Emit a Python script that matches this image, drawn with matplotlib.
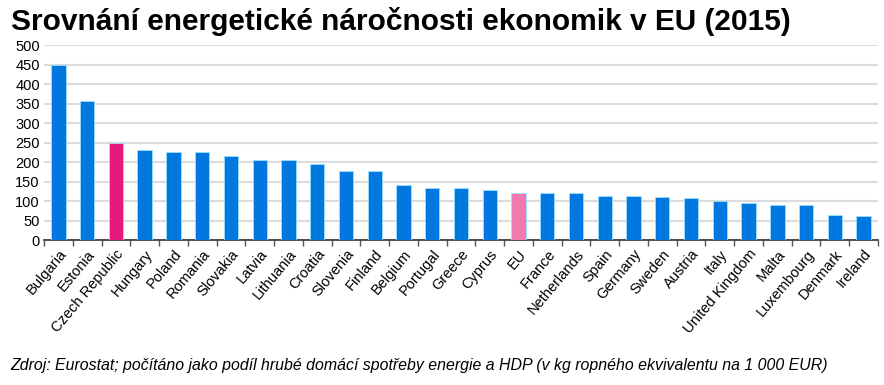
import numpy as np
import matplotlib.pyplot as plt

plt.rcParams['font.family'] = ['Liberation Sans', 'DejaVu Sans']

countries = ['Bulgaria', 'Estonia', 'Czech Republic', 'Hungary', 'Poland', 'Romania',
             'Slovakia', 'Latvia', 'Lithuania', 'Croatia', 'Slovenia', 'Finland',
             'Belgium', 'Portugal', 'Greece', 'Cyprus', 'EU', 'France', 'Netherlands',
             'Spain', 'Germany', 'Sweden', 'Austria', 'Italy', 'United Kingdom',
             'Malta', 'Luxembourg', 'Denmark', 'Ireland']
values = [449, 356, 250, 232, 226, 226, 216, 205, 205, 194, 178, 178,
          141, 133, 133, 127, 120, 120, 120, 114, 114, 111, 108, 100, 94,
          91, 89, 64, 61]

colors = []
for c in countries:
    if c == 'Czech Republic':
        colors.append('#E8197A')
    elif c == 'EU':
        colors.append('#F07AB0')
    else:
        colors.append('#0078E0')

fig = plt.figure(figsize=(8.84, 3.85), dpi=100)
ax = fig.add_axes([0.0498, 0.3766, 0.9434, 0.5064])

x = np.arange(len(countries))
ax.bar(x, values, width=0.5, color=colors, edgecolor='#9ADFFF', linewidth=0.6, zorder=3)

ax.set_xlim(-0.5, len(countries) - 0.5)
ax.set_ylim(0, 500)
ax.set_yticks(np.arange(0, 501, 50))
ax.yaxis.grid(True, color='#dcdcdc', linewidth=1.5, zorder=0)
ax.tick_params(axis='y', length=0, labelsize=10.5, pad=3)

ax.set_xticks(x)
ax.set_xticklabels(countries, rotation=50, ha='right', rotation_mode='anchor', fontsize=10.5)
ax.tick_params(axis='x', length=0, pad=5)
ax.set_xticks(np.arange(-0.5, len(countries)), minor=True)
ax.tick_params(axis='x', which='minor', length=4, width=1, color='#555555')

for s in ['top', 'right', 'left']:
    ax.spines[s].set_visible(False)
ax.spines['bottom'].set_color('#333333')
ax.spines['bottom'].set_linewidth(1.2)

fig.text(0.012, 0.945, 'Srovnání energetické náročnosti ekonomik v EU (2015)',
         fontsize=21.5, fontweight='bold', va='center', ha='left')
fig.text(0.012, 0.05, 'Zdroj: Eurostat; počítáno jako podíl hrubé domácí spotřeby energie a HDP '
         '(v kg ropného ekvivalentu na 1 000 EUR)',
         fontsize=11.4, style='italic', va='center', ha='left')

fig.savefig('out.png', dpi=100)
